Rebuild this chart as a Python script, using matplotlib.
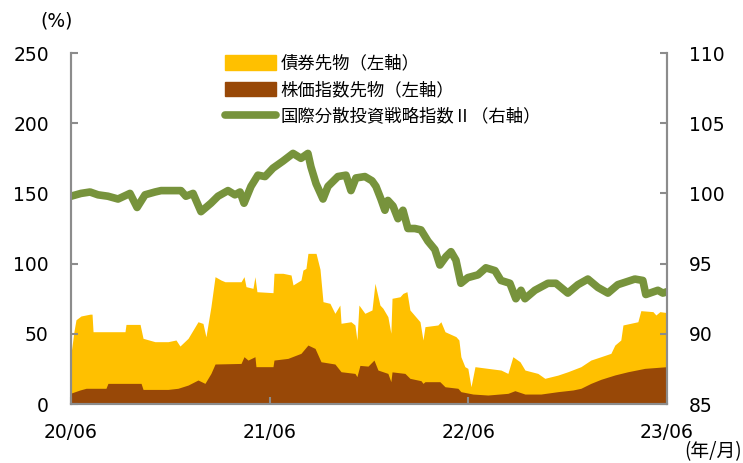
import matplotlib.pyplot as plt
import numpy as np
from matplotlib.patches import Patch
from matplotlib.lines import Line2D

plt.rcParams['font.family'] = ['DejaVu Sans', 'Noto Sans CJK JP']

# months elapsed since 2020/06
tick_pos = [0, 12, 24, 36]
tick_labels = ['20/06', '21/06', '22/06', '23/06']

# bond futures + stock index futures (top of the stacked area), %
total_t = [0.00, 0.18, 0.30, 0.60, 1.15, 1.27, 1.33, 3.26, 3.32, 4.17, 4.35, 5.07, 5.44,
           5.86, 6.34, 6.58, 7.07, 7.37, 7.67, 7.97, 8.15, 8.45, 8.70, 9.06, 9.30,
           10.27, 10.45, 10.57, 10.99, 11.11, 11.23, 12.20, 12.26, 12.80, 13.29, 13.41,
           13.89, 14.01, 14.19, 14.31, 14.80, 15.04, 15.22, 15.64, 15.94, 16.24, 16.31,
           16.91, 17.15, 17.27, 17.39, 17.75, 18.18, 18.36, 18.66, 18.84, 19.14, 19.32,
           19.39, 19.87, 20.05, 20.29, 20.47, 21.08, 21.26, 21.38, 22.16, 22.34, 22.59,
           23.25, 23.43, 23.55, 23.79, 23.97, 24.16, 24.40, 25.18, 25.97, 26.39, 26.69,
           27.12, 27.42, 28.20, 28.62, 29.41, 30.01, 30.80, 31.40, 32.01, 32.61, 32.85,
           33.21, 33.34, 34.24, 34.42, 35.15, 35.33, 35.57, 36.00]
total_v = [36, 52, 60, 62.7, 64, 64, 51.5, 51.5, 56.7, 56.7, 46.8, 44.4, 44.4,
           44.4, 45.6, 41.3, 46.8, 52.7, 58.6, 57.4, 47.9, 69.3, 90.7, 88.3, 87.1,
           87.1, 90.7, 83.6, 82.4, 90.7, 80, 79.3, 93.1, 93.1, 91.9, 84.8,
           88.3, 95.4, 96.6, 107.3, 107.3, 96, 72.9, 71.7, 64.6, 70.5, 57.5,
           58.6, 56.3, 45.6, 70.5, 64.6, 67, 86, 70.5, 68.2, 62.2, 50.4,
           75.3, 76.4, 78.8, 80, 67, 58.6, 45.6, 55.1, 56.3, 58.6, 51.5,
           48, 45.6, 33.7, 26.6, 25.4, 12.3, 26.6, 25.4, 24.2, 21.8, 33.7,
           30.1, 24.2, 21.8, 18.3, 20.6, 23, 26.6, 31.3, 33.7, 36.1, 42,
           45.6, 56.3, 58.6, 66.5, 65.8, 63.4, 65.8, 65.1]

# stock index futures, %
stock_t = [0.00, 0.54, 0.91, 2.11, 2.23, 4.23, 4.35, 5.86, 6.46, 7.07, 7.67, 8.09, 8.45,
           8.70, 10.27, 10.45, 10.69, 11.11, 11.17, 12.20, 12.26, 13.10, 13.89, 14.31,
           14.74, 15.10, 15.94, 16.31, 17.15, 17.27, 17.45, 17.94, 18.30, 18.54, 19.14,
           19.32, 19.39, 20.17, 20.47, 21.14, 21.26, 21.38, 22.28, 22.59, 23.37, 23.55,
           24.28, 25.18, 26.39, 26.81, 27.42, 28.38, 29.41, 30.32, 30.80, 31.40, 32.01,
           32.85, 33.64, 34.66, 36.00]
stock_v = [7.8, 10, 11.2, 11.2, 14.7, 14.7, 10.4, 10.4, 11.2, 13.5, 17.1, 14.7, 21.8,
           28.5, 28.9, 33.7, 31.3, 33.7, 26.6, 26.6, 31.3, 32.5, 36.1, 42,
           39.6, 30.1, 28.5, 23, 21.8, 19.5, 27.5, 27, 31.3, 24.2, 21.8,
           15.9, 22.9, 21.8, 18.3, 16.6, 14.7, 15.9, 15.9, 12.3, 11.2, 8.8,
           7.1, 6.4, 7.6, 9.5, 7.1, 7.1, 8.8, 10, 11.2, 14.7, 17.6,
           20.7, 23, 25.4, 26.6]

# global diversified investment strategy index II (right axis)
idx_t = [0.00, 0.60, 1.15, 1.63, 2.23, 2.84, 3.56, 3.99, 4.47, 5.07, 5.44, 6.16, 6.64,
         6.94, 7.37, 7.85, 8.45, 8.88, 9.48, 9.90, 10.21, 10.45, 10.87, 11.29, 11.72,
         12.20, 12.80, 13.41, 13.89, 14.31, 14.49, 14.80, 15.22, 15.52, 16.12, 16.61,
         16.91, 17.21, 17.75, 18.18, 18.42, 18.72, 18.96, 19.14, 19.45, 19.75, 20.05,
         20.35, 20.77, 21.14, 21.56, 21.98, 22.28, 22.65, 22.95, 23.25, 23.55, 23.97,
         24.58, 25.06, 25.61, 25.97, 26.51, 26.87, 27.18, 27.42, 28.02, 28.81, 29.29,
         30.01, 30.62, 31.22, 31.83, 32.43, 33.03, 34.06, 34.54, 34.72, 35.45, 35.75, 36.00]
idx_v = [99.8, 100.0, 100.1, 99.9, 99.8, 99.6, 100.0, 99.0, 99.9, 100.1, 100.2, 100.2, 100.2,
         99.8, 100.0, 98.7, 99.3, 99.8, 100.2, 99.9, 100.1, 99.3, 100.5, 101.3, 101.2,
         101.8, 102.3, 102.85, 102.5, 102.85, 101.9, 100.7, 99.6, 100.5, 101.2, 101.3,
         100.2, 101.1, 101.2, 100.9, 100.5, 99.6, 98.8, 99.5, 99.1, 98.2, 98.8,
         97.5, 97.5, 97.4, 96.6, 96.0, 94.9, 95.5, 95.85, 95.25, 93.6, 94.0,
         94.2, 94.7, 94.5, 93.8, 93.6, 92.5, 93.1, 92.5, 93.1, 93.6, 93.6,
         92.9, 93.5, 93.9, 93.3, 92.9, 93.5, 93.9, 93.8, 92.8, 93.1, 92.9, 93.0]

yellow = '#FFC000'
brown = '#984807'
green = '#77933C'
gray = '#8C8C8C'

fig = plt.figure(figsize=(7.43, 4.63), dpi=100)
ax = fig.add_axes([0.0956, 0.1274, 0.8021, 0.7581])
ax.fill_between(total_t, 0, total_v, color=yellow, lw=0)
ax.fill_between(stock_t, 0, stock_v, color=brown, lw=0)
ax.set_xlim(0, 36)
ax.set_ylim(0, 250)
ax.set_yticks([0, 50, 100, 150, 200, 250])
ax.set_xticks(tick_pos)
ax.set_xticklabels(tick_labels)

ax2 = ax.twinx()
ax2.plot(idx_t, idx_v, color=green, lw=5.5, solid_capstyle='round', solid_joinstyle='round')
ax2.set_ylim(85, 110)
ax2.set_yticks([85, 90, 95, 100, 105, 110])

for a in (ax, ax2):
    a.spines['top'].set_visible(False)
    for s in ('left', 'right', 'bottom'):
        a.spines[s].set_color(gray)
        a.spines[s].set_linewidth(1.5)
    a.tick_params(direction='in', length=5, width=1.5, color=gray, labelsize=13.5, pad=16)
ax.tick_params(axis='x', pad=14)

fig.text(0.054, 0.955, '(%)', fontsize=13.5, ha='left', va='center')
fig.text(0.999, 0.002, '(年/月)', fontsize=13.5, ha='right', va='bottom',
         family=['Noto Sans CJK JP', 'DejaVu Sans'])

handles = [Patch(color=yellow), Patch(color=brown),
           Line2D([], [], color=green, lw=5.5, solid_capstyle='round')]
labels = ['債券先物（左軸）', '株価指数先物（左軸）', '国際分散投資戦略指数Ⅱ（右軸）']
ax2.legend(handles, labels, loc='upper left', bbox_to_anchor=(0.247, 1.016), frameon=False,
           prop={'family': ['Noto Sans CJK JP', 'DejaVu Sans'], 'size': 12.5},
           handlelength=2.9, handleheight=0.9, handletextpad=0.3, labelspacing=0.5,
           borderaxespad=0)

fig.savefig('out.png', dpi=100)
